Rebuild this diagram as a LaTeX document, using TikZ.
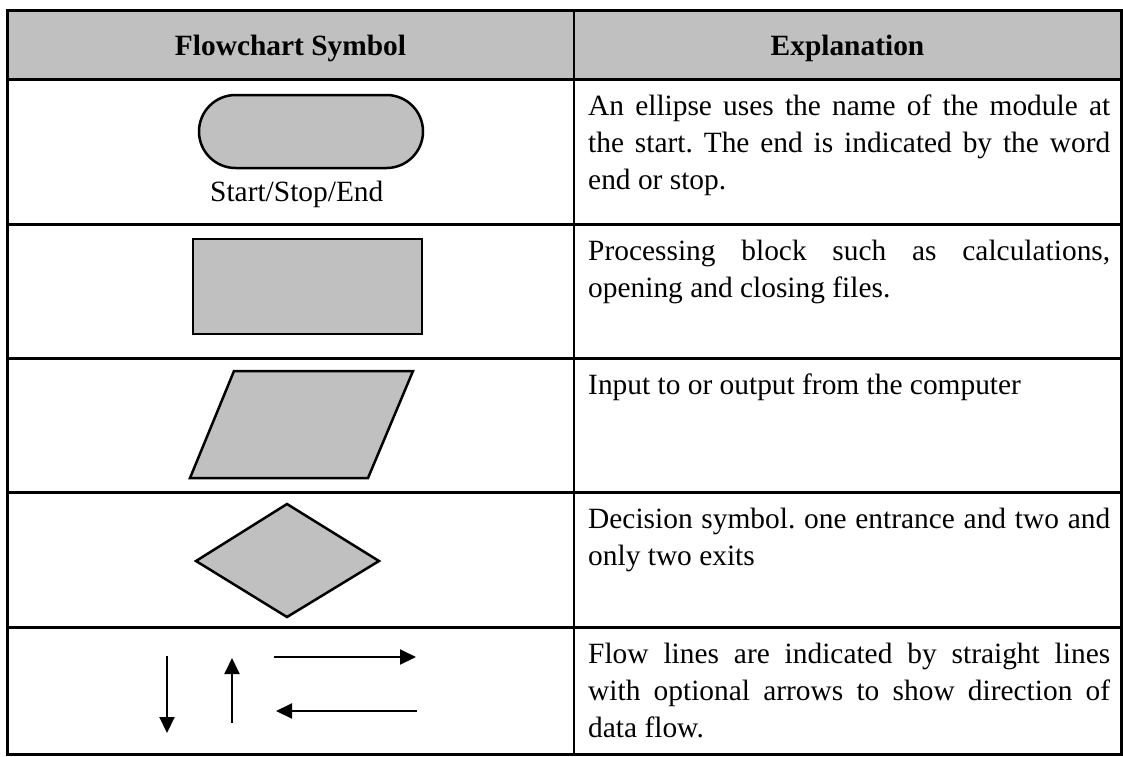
\documentclass[tikz,border=0pt]{standalone}
\usepackage{fontspec}
\setmainfont{Liberation Serif}
\usetikzlibrary{arrows.meta}
\definecolor{symgray}{HTML}{C0C0C0}
\tikzset{
  gridline/.style={line width=3pt},
  divline/.style={line width=1.5pt},
  sym/.style={draw=black, fill=symgray, line width=2.5pt, line join=miter},
  flow/.style={line width=2pt, -{Triangle[length=16pt,width=15pt]}},
  headtxt/.style={font=\fontsize{29.4}{36}\selectfont\bfseries, anchor=base, inner sep=0pt},
  expl/.style={font=\fontsize{29.4}{37}\selectfont\frenchspacing, anchor=base west, inner sep=0pt, text width=522pt, align=justify},
  lbl/.style={font=\fontsize{29.4}{36}\selectfont, anchor=base west, inner sep=0pt}
}
\newcommand{\jl}[1]{\makebox[522pt][s]{#1}}
\begin{document}
\begin{tikzpicture}[x=1pt,y=-1pt]
\useasboundingbox (0,0) rectangle (1123,756);
% header background
\fill[symgray] (7,10) rectangle (1121.5,79);
% table lines
\draw[gridline] (7,10) rectangle (1121.5,754.5);
\foreach \yy in {79,224,358,492,627} \draw[gridline] (7,\yy) -- (1121.5,\yy);
\draw[divline] (574,10) -- (574,754.5);
% header
\node[headtxt] (h1) at (290.5,55) {Flowchart Symbol};
\node[headtxt] (h2) at (847.5,55) {Explanation};
% row 1
\draw[sym, rounded corners=36.5pt] (199,95) rectangle (423,168);
\node[lbl] (startlbl) at (210,201) {Start/Stop/End};
\node[expl] (e1) at (588,115) {\jl{An ellipse uses the name of the module at}\\\jl{the start. The end is indicated by the word}\\end or stop.};
% row 2
\draw[sym] (193,239) rectangle (422,334);
\node[expl] (e2) at (588,260) {\jl{Processing block such as calculations,}\\opening and closing files.};
% row 3
\draw[sym] (234,371) -- (413,371) -- (368,478) -- (190,478) -- cycle;
\node[expl] (e3) at (588,394) {Input to or output from the computer};
% row 4
\draw[sym] (287,504) -- (379,561) -- (287,617) -- (196,561) -- cycle;
\node[expl] (e4) at (588,528) {\jl{Decision symbol. one entrance and two and}\\only two exits};
% row 5
\coordinate (d1) at (167,656); \coordinate (d2) at (167,733);
\coordinate (u1) at (232,723); \coordinate (u2) at (232,658);
\coordinate (r1) at (274,657); \coordinate (r2) at (416,657);
\coordinate (l1) at (417,711); \coordinate (l2) at (276,711);
\draw[flow] (d1) -- (d2);
\draw[flow] (u1) -- (u2);
\draw[flow] (r1) -- (r2);
\draw[flow] (l1) -- (l2);
\node[expl] (e5) at (588,663) {\jl{Flow lines are indicated by straight lines}\\\jl{with optional arrows to show direction of}\\data flow.};
\end{tikzpicture}
\end{document}
